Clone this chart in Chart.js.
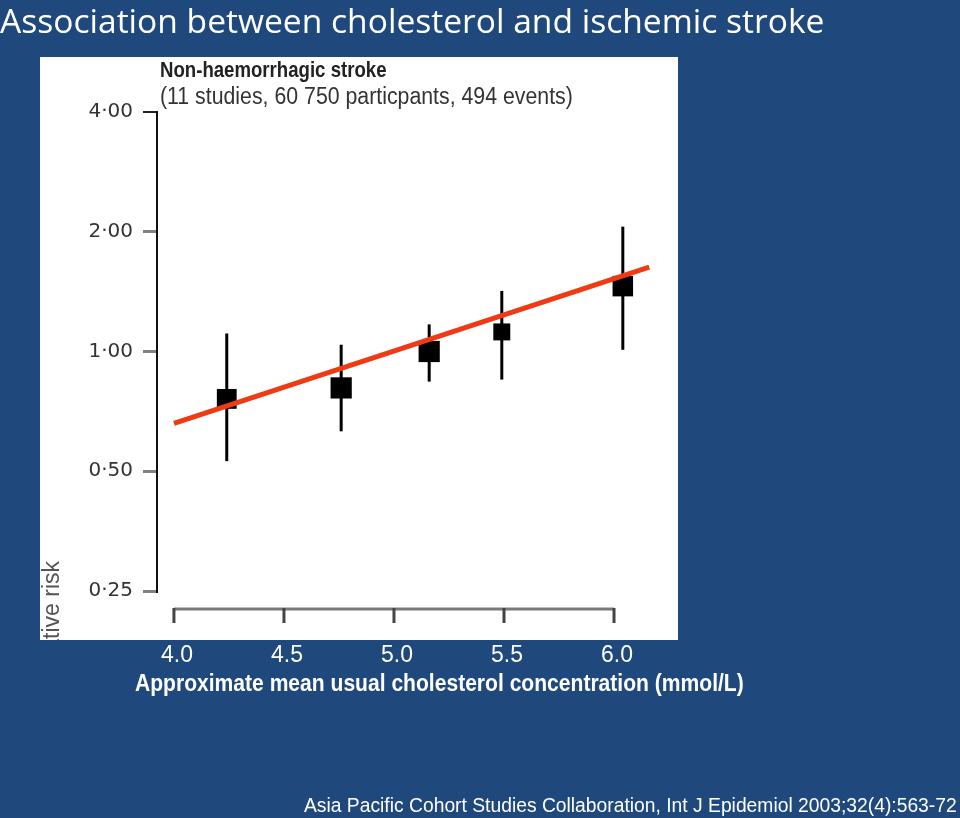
<!DOCTYPE html>
<html>
<head>
<meta charset="utf-8">
<script src="https://cdn.jsdelivr.net/npm/chart.js@4.4.1/dist/chart.umd.min.js"></script>
<style>
  html, body { margin: 0; padding: 0; }
  body { width: 960px; height: 818px; background: #1F497D; position: relative; overflow: hidden; }
  #chart { position: absolute; left: 0; top: 0; }
  .txt { position: absolute; color: #fff; white-space: nowrap; line-height: 1; }
  #title { left: 0; top: -3px; font: 33.6px "Open Sans", Lato, sans-serif; }
  #xtitle { left: 135px; top: 670px; font: bold 23px "Liberation Sans", Arial, sans-serif;
            transform: scaleX(0.916); transform-origin: 0 0; }
  #source { left: 304px; top: 795px; font: 19.3px "Liberation Sans", Arial, sans-serif; }
</style>
</head>
<body>
<canvas id="chart" width="960" height="818"></canvas>
<div class="txt" id="title">Association between cholesterol and ischemic stroke</div>
<div class="txt" id="xtitle">Approximate mean usual cholesterol concentration (mmol/L)</div>
<div class="txt" id="source">Asia Pacific Cohort Studies Collaboration, Int J Epidemiol 2003;32(4):563-72</div>
<script>
// values
const xTicks = [4.0, 4.5, 5.0, 5.5, 6.0];
const yTicks = [0.25, 0.5, 1, 2, 4];
const cholesterol = [4.24, 4.76, 5.16, 5.49, 6.04];
const relRisk = [0.76, 0.81, 1.00, 1.12, 1.46];
const ciLow = [0.53, 0.63, 0.84, 0.85, 1.01];
const ciHigh = [1.11, 1.04, 1.17, 1.42, 2.06];
const fitX = [4.0, 6.16];
const fitY = [0.66, 1.63];

const panel = { x: 40, y: 57, w: 638, h: 583 };

// condensed text: the source uses a narrow face that is not installed
function narrowText(ctx, text, x, y, squeeze) {
    ctx.save();
    ctx.translate(x, y);
    ctx.scale(squeeze, 1);
    ctx.fillText(text, 0, 0);
    ctx.restore();
}

const extras = {
    id: 'extras',
    beforeDraw(chart) {
        const ctx = chart.ctx;
        ctx.save();
        ctx.fillStyle = '#fff';
        ctx.fillRect(panel.x, panel.y, panel.w, panel.h);
        ctx.restore();
    },
    beforeDatasetsDraw(chart) {
        const { ctx, scales: { x, y }, chartArea } = chart;
        ctx.save();
        // confidence intervals
        ctx.strokeStyle = '#000';
        ctx.lineWidth = 3;
        cholesterol.forEach((c, i) => {
            const px = x.getPixelForValue(c);
            ctx.beginPath();
            ctx.moveTo(px, y.getPixelForValue(ciHigh[i]));
            ctx.lineTo(px, y.getPixelForValue(ciLow[i]));
            ctx.stroke();
        });
        // x axis bracket
        const by = chartArea.bottom + 18;
        ctx.strokeStyle = '#7a7a7a';
        ctx.beginPath();
        ctx.moveTo(x.getPixelForValue(xTicks[0]), by);
        ctx.lineTo(x.getPixelForValue(xTicks[xTicks.length - 1]), by);
        ctx.stroke();
        ctx.strokeStyle = '#444';
        xTicks.forEach(t => {
            const px = x.getPixelForValue(t);
            ctx.beginPath();
            ctx.moveTo(px, by - 1);
            ctx.lineTo(px, by + 14);
            ctx.stroke();
        });
        ctx.restore();
    },
    afterDraw(chart) {
        const { ctx, chartArea } = chart;
        ctx.save();
        ctx.fillStyle = '#222';
        ctx.textAlign = 'left';
        ctx.textBaseline = 'alphabetic';
        ctx.font = 'bold 22px "Liberation Sans", Arial';
        narrowText(ctx, 'Non-haemorrhagic stroke', chartArea.left + 3, 77, 0.846);
        ctx.font = '23px "Liberation Sans", Arial';
        ctx.fillStyle = '#333';
        narrowText(ctx, '(11 studies, 60 750 particpants, 494 events)', chartArea.left + 3, 104, 0.926);
        // y title, cut off by the panel edge as in the source
        ctx.beginPath();
        ctx.rect(panel.x, panel.y, panel.w, panel.h);
        ctx.clip();
        ctx.translate(53, 561);
        ctx.rotate(-Math.PI / 2);
        ctx.textAlign = 'right';
        ctx.textBaseline = 'middle';
        ctx.font = '23px "Liberation Sans", Arial';
        ctx.fillStyle = '#555';
        ctx.fillText('Relative risk', 0, 0);
        ctx.restore();
    }
};

new Chart(document.getElementById('chart'), {
    data: {
        datasets: [
            {
                type: 'line',
                data: fitX.map((v, i) => ({ x: v, y: fitY[i] })),
                borderColor: '#EE3B14',
                borderWidth: 5,
                pointRadius: 0
            },
            {
                type: 'scatter',
                data: cholesterol.map((v, i) => ({ x: v, y: relRisk[i] })),
                pointStyle: 'rect',
                pointRadius: [14, 15, 15, 12, 14.5],
                backgroundColor: '#000',
                borderWidth: 0
            }
        ]
    },
    options: {
        responsive: false,
        animation: false,
        devicePixelRatio: 1,
        layout: { padding: { left: 40, top: 112, right: 300, bottom: 0 } },
        plugins: { legend: { display: false }, tooltip: { enabled: false } },
        scales: {
            x: {
                type: 'linear',
                min: 3.923,
                max: 6.209,
                afterBuildTicks: s => { s.ticks = xTicks.map(v => ({ value: v })); },
                afterFit: s => { s.height = 227; },
                grid: { display: false, drawTicks: false },
                border: { display: false },
                ticks: {
                    autoSkip: false,
                    maxRotation: 0,
                    padding: 51,
                    labelOffset: 3,
                    color: '#fff',
                    font: { family: '"Liberation Sans", Arial', size: 23 },
                    callback: v => Number(v).toFixed(1)
                }
            },
            y: {
                type: 'logarithmic',
                min: 0.25,
                max: 4,
                afterBuildTicks: s => { s.ticks = yTicks.map(v => ({ value: v })); },
                afterFit: s => { s.width = 117; },
                grid: {
                    drawOnChartArea: false,
                    tickLength: 14,
                    color: c => (c.tick && c.tick.value === 4 ? '#222' : '#808080'),
                    lineWidth: c => (c.tick && c.tick.value === 4 ? 2 : 3)
                },
                border: { display: true, color: '#111', width: 2 },
                ticks: {
                    autoSkip: false,
                    padding: 10,
                    color: '#333',
                    font: { family: '"DejaVu Sans"', size: 20 },
                    callback: v => Number(v).toFixed(2).replace('.', '\u00B7')
                }
            }
        }
    },
    plugins: [extras]
});
</script>
</body>
</html>
